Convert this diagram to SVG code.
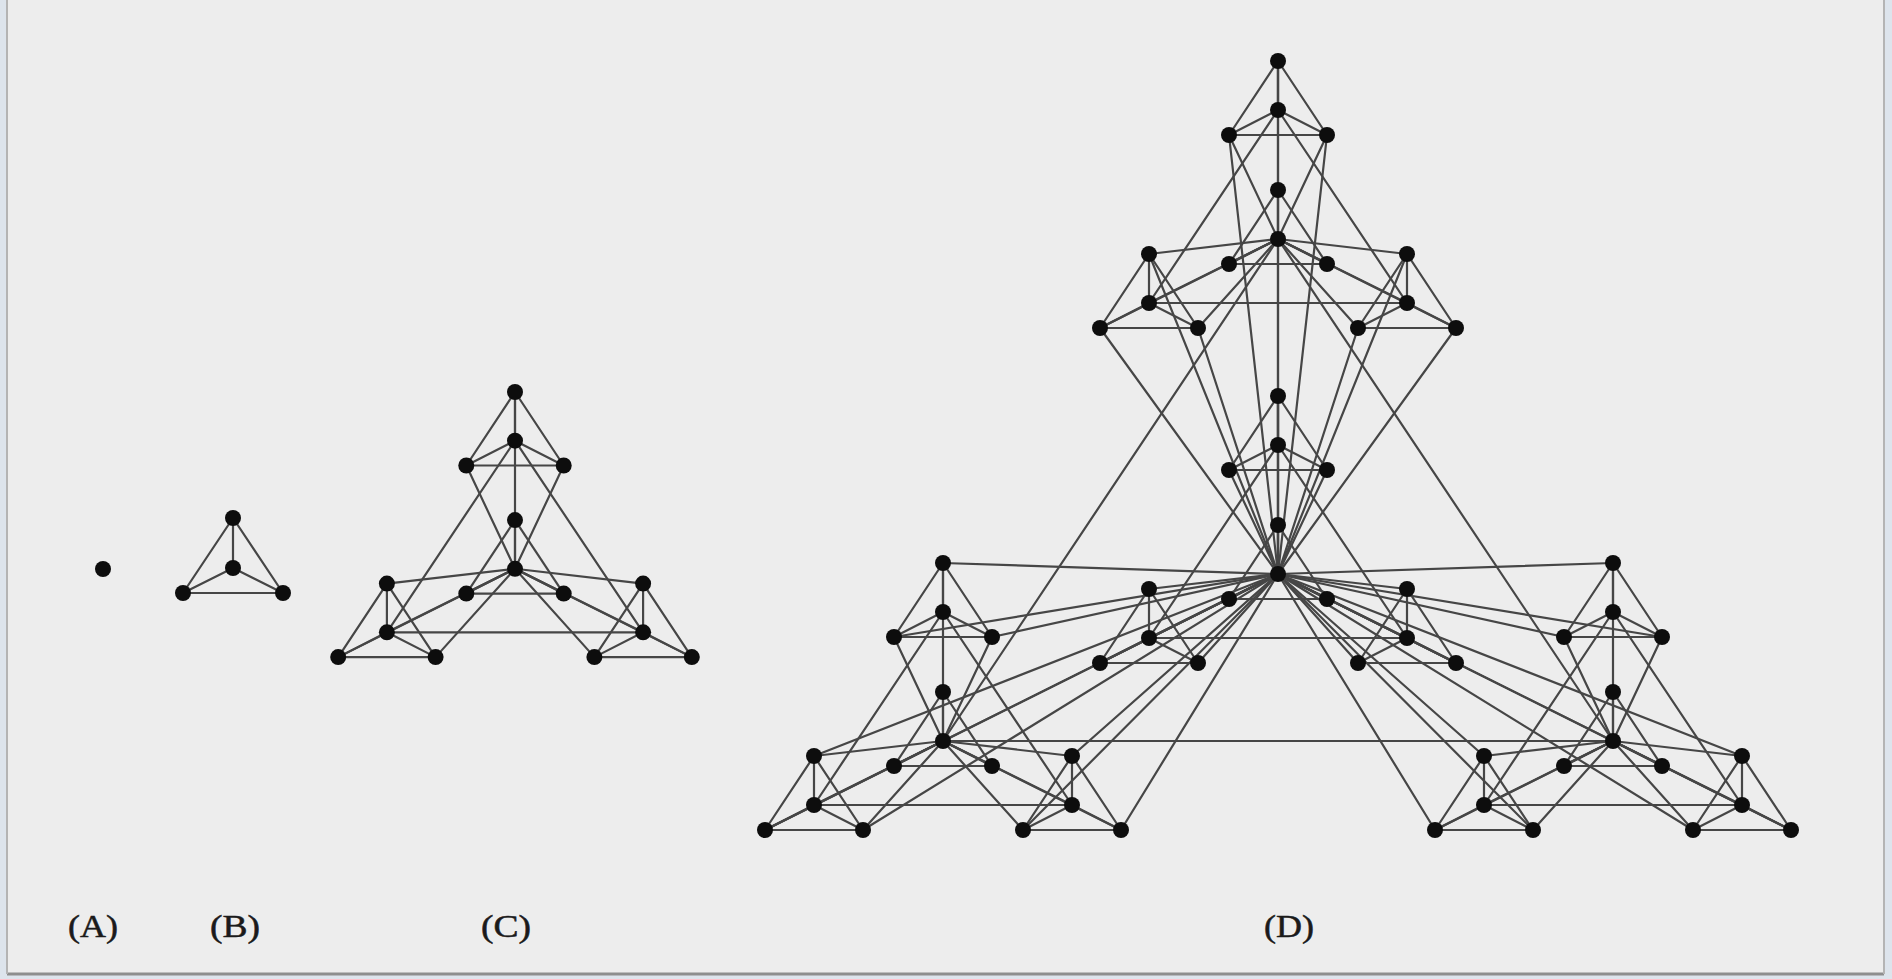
<svg xmlns="http://www.w3.org/2000/svg" width="1892" height="979" viewBox="0 0 1892 979">
<style>
.n{fill:#0d0d0d}
.lbl{font-family:"Liberation Serif","Times New Roman",serif;font-size:31px;fill:#1a1a1a;text-anchor:middle;stroke:#1a1a1a;stroke-width:0.5}
</style>
<defs>
<g id="k4">
<line x1="0" y1="0" x2="0" y2="49"/>
<line x1="0" y1="0" x2="-49" y2="74"/>
<line x1="0" y1="0" x2="49" y2="74"/>
<line x1="0" y1="49" x2="-49" y2="74"/>
<line x1="0" y1="49" x2="49" y2="74"/>
<line x1="-49" y1="74" x2="49" y2="74"/>
</g>
<g id="cmod">
<use href="#k4"/>
<use href="#k4" x="0" y="129"/>
<use href="#k4" x="-129" y="193"/>
<use href="#k4" x="129" y="193"/>
<line x1="0" y1="49" x2="-129" y2="242"/>
<line x1="0" y1="49" x2="129" y2="242"/>
<line x1="0" y1="178" x2="-129" y2="242"/>
<line x1="0" y1="178" x2="129" y2="242"/>
<line x1="-129" y1="242" x2="129" y2="242"/>
<line x1="0" y1="0" x2="0" y2="178"/>
<line x1="-49" y1="74" x2="0" y2="178"/>
<line x1="49" y1="74" x2="0" y2="178"/>
<line x1="-129" y1="193" x2="0" y2="178"/>
<line x1="-178" y1="267" x2="0" y2="178"/>
<line x1="-80" y1="267" x2="0" y2="178"/>
<line x1="129" y1="193" x2="0" y2="178"/>
<line x1="80" y1="267" x2="0" y2="178"/>
<line x1="178" y1="267" x2="0" y2="178"/>
</g>
</defs>
<rect x="0" y="0" width="1892" height="979" fill="#dde4ec"/>
<rect x="7" y="0" width="1877" height="974" fill="#ededed"/>
<line x1="7" y1="974" x2="1884" y2="974" stroke="#8e8e8e" stroke-width="3"/>
<line x1="7" y1="0" x2="7" y2="974" stroke="#b4b4b4" stroke-width="2"/>
<line x1="1884" y1="0" x2="1884" y2="974" stroke="#b4b4b4" stroke-width="2"/>

<g id="connectors" stroke="#464646" stroke-width="2.2" stroke-linecap="round" fill="none">
<g id="edges-B">
<line x1="233" y1="518" x2="233" y2="568"/>
<line x1="233" y1="518" x2="183" y2="593"/>
<line x1="233" y1="518" x2="283" y2="593"/>
<line x1="233" y1="568" x2="183" y2="593"/>
<line x1="233" y1="568" x2="283" y2="593"/>
<line x1="183" y1="593" x2="283" y2="593"/>
</g>
<g id="edges-C">
<use href="#cmod" transform="translate(515,392) scale(0.993)"/>
</g>
<g id="edges-D">
<use href="#cmod" x="1278" y="61"/>
<use href="#cmod" x="1278" y="396"/>
<use href="#cmod" x="943" y="563"/>
<use href="#cmod" x="1613" y="563"/>
<line x1="1278" y1="239" x2="1278" y2="574"/>
<line x1="1278" y1="239" x2="943" y2="741"/>
<line x1="1278" y1="239" x2="1613" y2="741"/>
<line x1="1278" y1="574" x2="943" y2="741"/>
<line x1="1278" y1="574" x2="1613" y2="741"/>
<line x1="943" y1="741" x2="1613" y2="741"/>
<line x1="1278" y1="61" x2="1278" y2="574"/>
<line x1="1229" y1="135" x2="1278" y2="574"/>
<line x1="1327" y1="135" x2="1278" y2="574"/>
<line x1="1149" y1="254" x2="1278" y2="574"/>
<line x1="1100" y1="328" x2="1278" y2="574"/>
<line x1="1198" y1="328" x2="1278" y2="574"/>
<line x1="1407" y1="254" x2="1278" y2="574"/>
<line x1="1358" y1="328" x2="1278" y2="574"/>
<line x1="1456" y1="328" x2="1278" y2="574"/>
<line x1="943" y1="563" x2="1278" y2="574"/>
<line x1="894" y1="637" x2="1278" y2="574"/>
<line x1="992" y1="637" x2="1278" y2="574"/>
<line x1="814" y1="756" x2="1278" y2="574"/>
<line x1="765" y1="830" x2="1278" y2="574"/>
<line x1="863" y1="830" x2="1278" y2="574"/>
<line x1="1072" y1="756" x2="1278" y2="574"/>
<line x1="1023" y1="830" x2="1278" y2="574"/>
<line x1="1121" y1="830" x2="1278" y2="574"/>
<line x1="1613" y1="563" x2="1278" y2="574"/>
<line x1="1564" y1="637" x2="1278" y2="574"/>
<line x1="1662" y1="637" x2="1278" y2="574"/>
<line x1="1484" y1="756" x2="1278" y2="574"/>
<line x1="1435" y1="830" x2="1278" y2="574"/>
<line x1="1533" y1="830" x2="1278" y2="574"/>
<line x1="1742" y1="756" x2="1278" y2="574"/>
<line x1="1693" y1="830" x2="1278" y2="574"/>
<line x1="1791" y1="830" x2="1278" y2="574"/>
</g>
</g>

<g id="nodes">
<g id="a"><circle class="n" cx="103" cy="569" r="8"/></g>
<g id="b1"><circle class="n" cx="233" cy="518" r="8"/></g>
<g id="b2"><circle class="n" cx="233" cy="568" r="8"/></g>
<g id="b3"><circle class="n" cx="183" cy="593" r="8"/></g>
<g id="b4"><circle class="n" cx="283" cy="593" r="8"/></g>

<g id="c1"><circle class="n" cx="515" cy="392" r="8"/></g>
<g id="c2"><circle class="n" cx="515" cy="440.7" r="8"/></g>
<g id="c3"><circle class="n" cx="466.3" cy="465.5" r="8"/></g>
<g id="c4"><circle class="n" cx="563.7" cy="465.5" r="8"/></g>
<g id="c5"><circle class="n" cx="515" cy="520.1" r="8"/></g>
<g id="c6"><circle class="n" cx="515" cy="568.8" r="8"/></g>
<g id="c7"><circle class="n" cx="466.3" cy="593.6" r="8"/></g>
<g id="c8"><circle class="n" cx="563.7" cy="593.6" r="8"/></g>
<g id="c9"><circle class="n" cx="386.9" cy="583.6" r="8"/></g>
<g id="c10"><circle class="n" cx="386.9" cy="632.3" r="8"/></g>
<g id="c11"><circle class="n" cx="338.2" cy="657.1" r="8"/></g>
<g id="c12"><circle class="n" cx="435.6" cy="657.1" r="8"/></g>
<g id="c13"><circle class="n" cx="643.1" cy="583.6" r="8"/></g>
<g id="c14"><circle class="n" cx="643.1" cy="632.3" r="8"/></g>
<g id="c15"><circle class="n" cx="594.4" cy="657.1" r="8"/></g>
<g id="c16"><circle class="n" cx="691.8" cy="657.1" r="8"/></g>

<g id="d1"><circle class="n" cx="1278" cy="61" r="8"/></g>
<g id="d2"><circle class="n" cx="1278" cy="110" r="8"/></g>
<g id="d3"><circle class="n" cx="1229" cy="135" r="8"/></g>
<g id="d4"><circle class="n" cx="1327" cy="135" r="8"/></g>
<g id="d5"><circle class="n" cx="1278" cy="190" r="8"/></g>
<g id="d6"><circle class="n" cx="1278" cy="239" r="8"/></g>
<g id="d7"><circle class="n" cx="1229" cy="264" r="8"/></g>
<g id="d8"><circle class="n" cx="1327" cy="264" r="8"/></g>
<g id="d9"><circle class="n" cx="1149" cy="254" r="8"/></g>
<g id="d10"><circle class="n" cx="1149" cy="303" r="8"/></g>
<g id="d11"><circle class="n" cx="1100" cy="328" r="8"/></g>
<g id="d12"><circle class="n" cx="1198" cy="328" r="8"/></g>
<g id="d13"><circle class="n" cx="1407" cy="254" r="8"/></g>
<g id="d14"><circle class="n" cx="1407" cy="303" r="8"/></g>
<g id="d15"><circle class="n" cx="1358" cy="328" r="8"/></g>
<g id="d16"><circle class="n" cx="1456" cy="328" r="8"/></g>

<g id="d17"><circle class="n" cx="1278" cy="396" r="8"/></g>
<g id="d18"><circle class="n" cx="1278" cy="445" r="8"/></g>
<g id="d19"><circle class="n" cx="1229" cy="470" r="8"/></g>
<g id="d20"><circle class="n" cx="1327" cy="470" r="8"/></g>
<g id="d21"><circle class="n" cx="1278" cy="525" r="8"/></g>
<g id="d22"><circle class="n" cx="1278" cy="574" r="8"/></g>
<g id="d23"><circle class="n" cx="1229" cy="599" r="8"/></g>
<g id="d24"><circle class="n" cx="1327" cy="599" r="8"/></g>
<g id="d25"><circle class="n" cx="1149" cy="589" r="8"/></g>
<g id="d26"><circle class="n" cx="1149" cy="638" r="8"/></g>
<g id="d27"><circle class="n" cx="1100" cy="663" r="8"/></g>
<g id="d28"><circle class="n" cx="1198" cy="663" r="8"/></g>
<g id="d29"><circle class="n" cx="1407" cy="589" r="8"/></g>
<g id="d30"><circle class="n" cx="1407" cy="638" r="8"/></g>
<g id="d31"><circle class="n" cx="1358" cy="663" r="8"/></g>
<g id="d32"><circle class="n" cx="1456" cy="663" r="8"/></g>

<g id="d33"><circle class="n" cx="943" cy="563" r="8"/></g>
<g id="d34"><circle class="n" cx="943" cy="612" r="8"/></g>
<g id="d35"><circle class="n" cx="894" cy="637" r="8"/></g>
<g id="d36"><circle class="n" cx="992" cy="637" r="8"/></g>
<g id="d37"><circle class="n" cx="943" cy="692" r="8"/></g>
<g id="d38"><circle class="n" cx="943" cy="741" r="8"/></g>
<g id="d39"><circle class="n" cx="894" cy="766" r="8"/></g>
<g id="d40"><circle class="n" cx="992" cy="766" r="8"/></g>
<g id="d41"><circle class="n" cx="814" cy="756" r="8"/></g>
<g id="d42"><circle class="n" cx="814" cy="805" r="8"/></g>
<g id="d43"><circle class="n" cx="765" cy="830" r="8"/></g>
<g id="d44"><circle class="n" cx="863" cy="830" r="8"/></g>
<g id="d45"><circle class="n" cx="1072" cy="756" r="8"/></g>
<g id="d46"><circle class="n" cx="1072" cy="805" r="8"/></g>
<g id="d47"><circle class="n" cx="1023" cy="830" r="8"/></g>
<g id="d48"><circle class="n" cx="1121" cy="830" r="8"/></g>

<g id="d49"><circle class="n" cx="1613" cy="563" r="8"/></g>
<g id="d50"><circle class="n" cx="1613" cy="612" r="8"/></g>
<g id="d51"><circle class="n" cx="1564" cy="637" r="8"/></g>
<g id="d52"><circle class="n" cx="1662" cy="637" r="8"/></g>
<g id="d53"><circle class="n" cx="1613" cy="692" r="8"/></g>
<g id="d54"><circle class="n" cx="1613" cy="741" r="8"/></g>
<g id="d55"><circle class="n" cx="1564" cy="766" r="8"/></g>
<g id="d56"><circle class="n" cx="1662" cy="766" r="8"/></g>
<g id="d57"><circle class="n" cx="1484" cy="756" r="8"/></g>
<g id="d58"><circle class="n" cx="1484" cy="805" r="8"/></g>
<g id="d59"><circle class="n" cx="1435" cy="830" r="8"/></g>
<g id="d60"><circle class="n" cx="1533" cy="830" r="8"/></g>
<g id="d61"><circle class="n" cx="1742" cy="756" r="8"/></g>
<g id="d62"><circle class="n" cx="1742" cy="805" r="8"/></g>
<g id="d63"><circle class="n" cx="1693" cy="830" r="8"/></g>
<g id="d64"><circle class="n" cx="1791" cy="830" r="8"/></g>
</g>

<g id="labels">
<text class="lbl" x="93" y="937" textLength="50" lengthAdjust="spacingAndGlyphs">(A)</text>
<text class="lbl" x="235" y="937" textLength="50" lengthAdjust="spacingAndGlyphs">(B)</text>
<text class="lbl" x="506" y="937" textLength="50" lengthAdjust="spacingAndGlyphs">(C)</text>
<text class="lbl" x="1289" y="937" textLength="50" lengthAdjust="spacingAndGlyphs">(D)</text>
</g>
</svg>
